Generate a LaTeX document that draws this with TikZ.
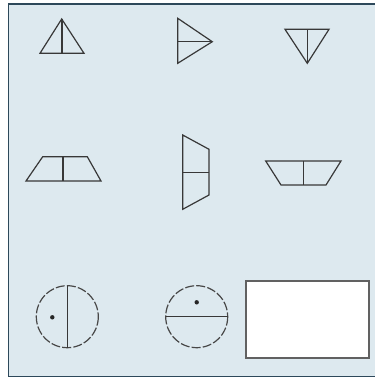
\documentclass[tikz,border=0pt]{standalone}
\begin{document}
\begin{tikzpicture}[x=1pt,y=-1pt,
  sym/.style={draw=black!78,line width=1.2pt,line join=miter},
  thick stem/.style={draw=black!78,line width=2pt},
  thin stem/.style={draw=black!78,line width=1.2pt},
  dcirc/.style={draw=black!72,line width=1.2pt,dash pattern=on 9pt off 2.2pt},
  dotf/.style={fill=black!85},
  frame/.style={draw={rgb,255:red,45;green,72;blue,90},fill={rgb,255:red,221;green,233;blue,239},line width=1.6pt}]
\useasboundingbox (0,0) rectangle (374,379);
\fill[white] (0,0) rectangle (374,379);
\draw[frame] (8.5,4) rectangle (380,376.5);
% shape 1
\coordinate (a1) at (61.7,19);
\coordinate (b1) at (40,53.3);
\coordinate (c1) at (84,53.3);
\coordinate (m1) at (61.7,53.3);
\draw[sym] (a1) -- (b1) -- (c1) -- cycle;
\draw[thick stem] (a1) -- (m1);
% shape 2
\coordinate (a2) at (177.7,18.3);
\coordinate (b2) at (177.7,63.3);
\coordinate (t2) at (212.3,41.7);
\coordinate (m2) at (177.7,41.7);
\draw[sym] (a2) -- (t2) -- (b2) -- cycle;
\draw[thin stem] (m2) -- (t2);
% shape 3
\coordinate (a3) at (285,29.3);
\coordinate (b3) at (329,29.3);
\coordinate (t3) at (307.3,63.3);
\coordinate (m3) at (307.3,29.3);
\draw[sym] (a3) -- (b3) -- (t3) -- cycle;
\draw[thin stem] (m3) -- (t3);
% shape 4
\coordinate (a4) at (42.7,156.7);
\coordinate (b4) at (87.3,156.7);
\coordinate (c4) at (101,181);
\coordinate (d4) at (26,181);
\draw[sym] (a4) -- (b4) -- (c4) -- (d4) -- cycle;
\draw[thick stem] (63.3,156.7) -- (63.3,181);
% shape 5
\coordinate (a5) at (182.7,135);
\coordinate (b5) at (209,149.3);
\coordinate (c5) at (209,195);
\coordinate (d5) at (182.7,209.3);
\draw[sym] (a5) -- (b5) -- (c5) -- (d5) -- cycle;
\draw[thin stem] (182.7,172.7) -- (209,172.7);
% shape 6
\coordinate (a6) at (265.7,161);
\coordinate (b6) at (341,161);
\coordinate (c6) at (326,185);
\coordinate (d6) at (281,185);
\draw[sym] (a6) -- (b6) -- (c6) -- (d6) -- cycle;
\draw[thin stem] (303.3,161) -- (303.3,185);
% circle 1
\coordinate (o1) at (67.3,316.7);
\draw[dcirc] (o1) circle[radius=31];
\draw[thin stem] (67.3,285.7) -- (67.3,347.7);
\fill[dotf] (52.3,317.3) circle[radius=2.2];
% circle 2
\coordinate (o2) at (196.7,316.7);
\draw[dcirc] (o2) circle[radius=31];
\draw[thin stem] (165.7,316.7) -- (227.7,316.7);
\fill[dotf] (196.7,302.3) circle[radius=2.2];
% rectangle
\node[draw=black!62,fill=white,line width=1.6pt,minimum width=123pt,minimum height=77pt,inner sep=0pt] (box) at (307.5,319.2) {};
\end{tikzpicture}
\end{document}
